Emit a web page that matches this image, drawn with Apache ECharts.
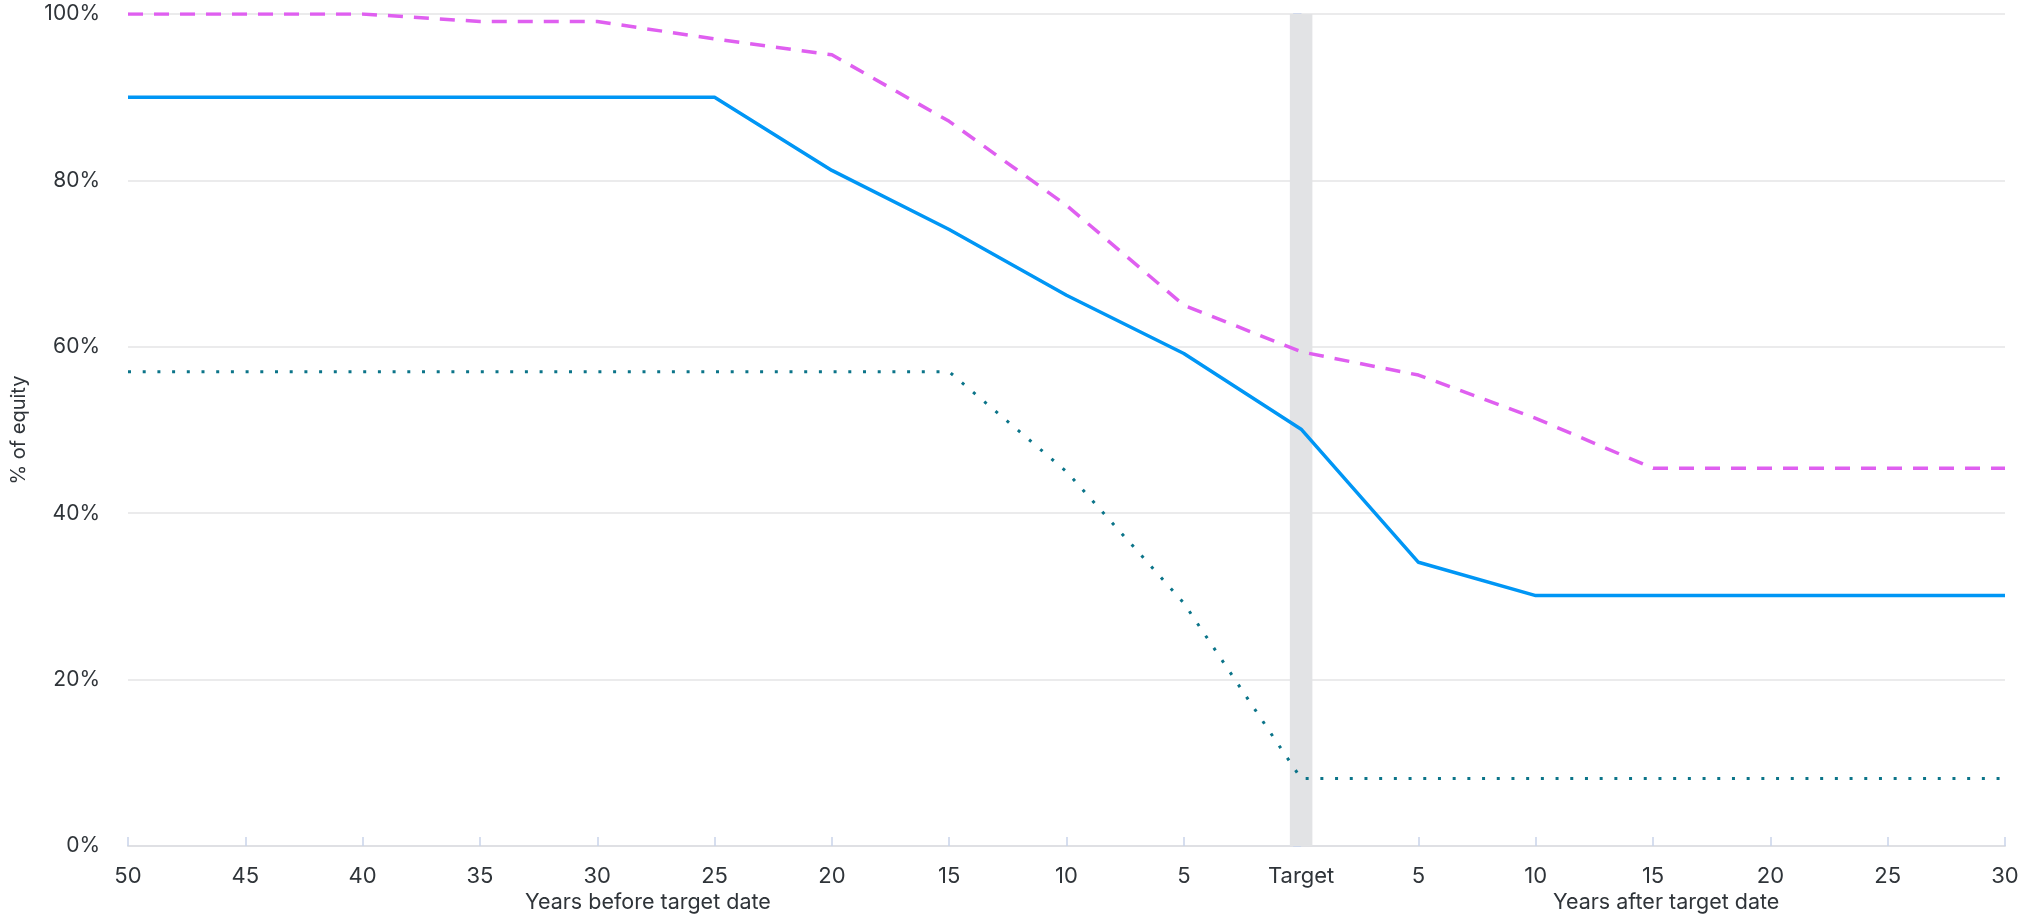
<!DOCTYPE html>
<html>
<head>
<meta charset="utf-8">
<title>Equity glide path</title>
<script src="https://cdn.jsdelivr.net/npm/echarts@6/dist/echarts.min.js"></script>
<style>
  html, body { margin: 0; padding: 0; background: #ffffff; }
  #chart { width: 2032px; height: 921px; }
</style>
</head>
<body>
<div id="chart"></div>
<script>
// Years relative to the target date (negative = before, positive = after)
const years = [-50, -45, -40, -35, -30, -25, -20, -15, -10, -5, 0, 5, 10, 15, 20, 25, 30];

// Equity share (%) at each point in time
const glidePath = [90, 90, 90, 90, 90, 90, 81.2, 74.1, 66.2, 59.2, 50.1, 34.1, 30.1, 30.1, 30.1, 30.1, 30.1];
const upperRange = [100, 100, 100, 99.1, 99.1, 97, 95.1, 87.1, 77, 65, 59.4, 56.6, 51.4, 45.4, 45.4, 45.4, 45.4];
const lowerRange = [57, 57, 57, 57, 57, 57, 57, 57, 45, 29.2, 8.1, 8.1, 8.1, 8.1, 8.1, 8.1, 8.1];

// Axis labels
const yTicks = [0, 20, 40, 60, 80, 100];
const targetLabel = 'Target';
const beforeTitle = 'Years before target date';
const afterTitle = 'Years after target date';
const yTitle = '% of equity';

const FONT = 'Inter, "Noto Sans", "DejaVu Sans", sans-serif';
const TEXT = '#2f3439';

const pairs = (vals) => years.map((y, i) => [y, vals[i]]);

const chart = echarts.init(document.getElementById('chart'), null, { renderer: 'canvas' });

chart.setOption({
  animation: false,
  backgroundColor: '#ffffff',
  grid: { left: 128, right: 27, top: 14, bottom: 75, containLabel: false, outerBoundsMode: 'none' },
  xAxis: {
    type: 'value',
    min: -50,
    max: 30,
    interval: 5,
    axisLine: { show: true, lineStyle: { color: '#dfe0e4', width: 2 } },
    axisTick: { show: true, inside: true, length: 9, lineStyle: { color: '#c9d3ea', width: 1.5 } },
    splitLine: { show: false },
    axisLabel: {
      margin: 19,
      fontFamily: FONT,
      fontSize: 22,
      color: TEXT,
      formatter: (v) => (v === 0 ? targetLabel : String(Math.abs(v)))
    }
  },
  yAxis: {
    type: 'value',
    min: yTicks[0],
    max: yTicks[yTicks.length - 1],
    interval: 20,
    name: yTitle,
    nameLocation: 'middle',
    nameGap: 99,
    nameRotate: 90,
    nameTextStyle: { fontFamily: FONT, fontSize: 20, color: TEXT },
    axisLine: { show: true, lineStyle: { color: '#dde0e8', width: 2 } },
    axisTick: { show: true, length: 8, lineStyle: { color: '#c9d3ea', width: 1.5 } },
    splitLine: { show: true, lineStyle: { color: '#e4e4e6', width: 1.5 } },
    axisLabel: {
      margin: 28,
      fontFamily: FONT,
      fontSize: 21,
      color: TEXT,
      padding: [4, 0, 0, 0],
      formatter: '{value}%'
    }
  },
  graphic: [
    {
      type: 'text',
      left: 647 - 122,
      top: 892,
      style: { text: beforeTitle, font: '21.5px ' + FONT, fill: TEXT }
    },
    {
      type: 'text',
      left: 1666 - 113,
      top: 892,
      style: { text: afterTitle, font: '21.5px ' + FONT, fill: TEXT }
    }
  ],
  series: [
    {
      // Shaded band marking the target date
      type: 'line',
      data: [],
      silent: true,
      z: 1,
      markArea: {
        silent: true,
        itemStyle: { color: '#e2e3e5' },
        data: [[{ xAxis: -0.48 }, { xAxis: 0.48 }]]
      }
    },
    {
      name: 'Upper range',
      type: 'line',
      data: pairs(upperRange),
      symbol: 'none',
      z: 3,
      lineStyle: { color: '#df5ff0', width: 3.5, type: [15, 11], join: 'round' }
    },
    {
      name: 'Glide path',
      type: 'line',
      data: pairs(glidePath),
      symbol: 'none',
      z: 4,
      lineStyle: { color: '#0096f5', width: 3.5, join: 'round' }
    },
    {
      name: 'Lower range',
      type: 'line',
      data: pairs(lowerRange),
      symbol: 'none',
      z: 3,
      lineStyle: { color: '#0b7489', width: 3, type: [3, 11.7], cap: 'butt' }
    }
  ]
});
</script>
</body>
</html>
